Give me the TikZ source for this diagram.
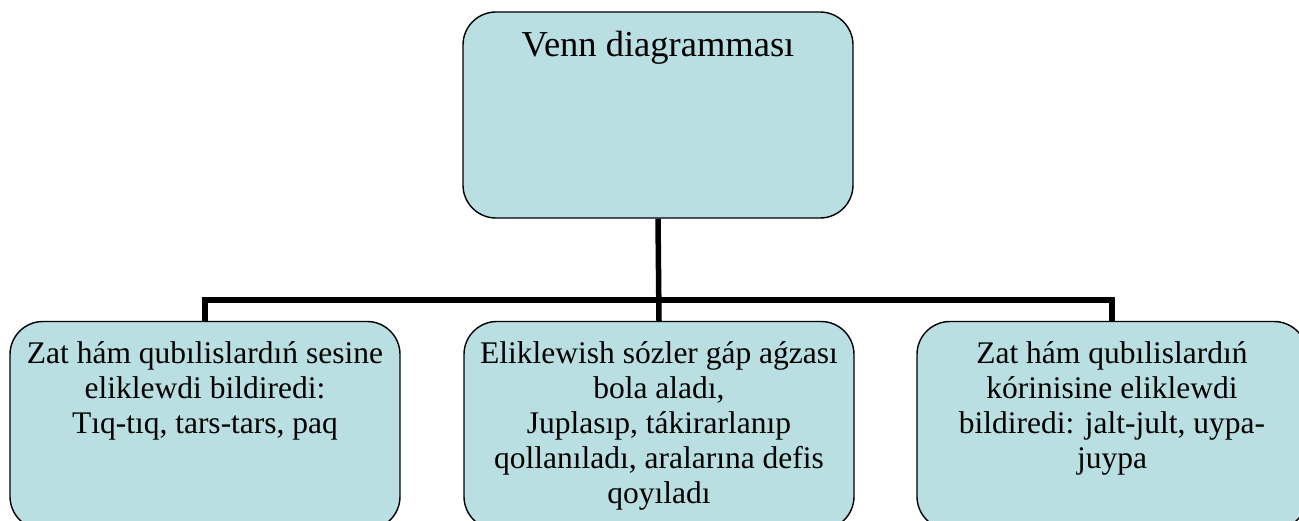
\documentclass[tikz,border=0pt]{standalone}
\usepackage{fontspec}
\setmainfont{Liberation Serif}
\definecolor{boxfill}{RGB}{185,223,227}
\begin{document}
\begin{tikzpicture}[x=1pt, y=-1pt,
  box/.style={draw=black, line width=1.4pt, fill=boxfill,
    rounded corners=33pt, minimum width=390pt, minimum height=208pt,
    inner sep=0pt},
  txt/.style={align=center, inner sep=0pt, anchor=north,
    font=\fontsize{31.5}{35}\selectfont},
  bar/.style={line width=5.5pt}]
  \useasboundingbox (0,0) rectangle (1299,521);
  \clip (0,0) rectangle (1299,521);
  \pgfmathsetmacro{\by}{300}
  \coordinate (junction) at (0,\by);
  % top box
  \node[box, minimum height=206pt] (venn) at (658,115) {};
  \node[txt, font=\fontsize{36.5}{42}\selectfont] (venntxt)
    at ([yshift=-20pt]venn.north) {Venn diagramması};
  % bottom boxes
  \node[box] (sound) at (205,425.5) {};
  \node[box] (word) at (659,425.5) {};
  \node[box] (look) at (1112,425.5) {};
  \node[txt] (soundtxt) at ([yshift=-21pt]sound.north)
    {Zat hám qubılislardıń sesine\\eliklewdi bildiredi:\\Tıq-tıq, tars-tars, paq};
  \node[txt] (wordtxt) at ([yshift=-21pt]word.north)
    {Eliklewish sózler gáp aǵzası\\bola aladı,\\Juplasıp, tákirarlanıp\\qollanıladı, aralarına defis\\qoyıladı};
  \node[txt] (looktxt) at ([yshift=-21pt]look.north)
    {Zat hám qubılislardıń\\kórinisine eliklewdi\\bildiredi: jalt-jult, uypa-\\juypa};
  % connectors
  \draw[bar] (venn.south) -- (word.north);
  \draw[bar] (sound.north) -- (sound.north |- junction)
    -- (look.north |- junction) -- (look.north);
\end{tikzpicture}
\end{document}
